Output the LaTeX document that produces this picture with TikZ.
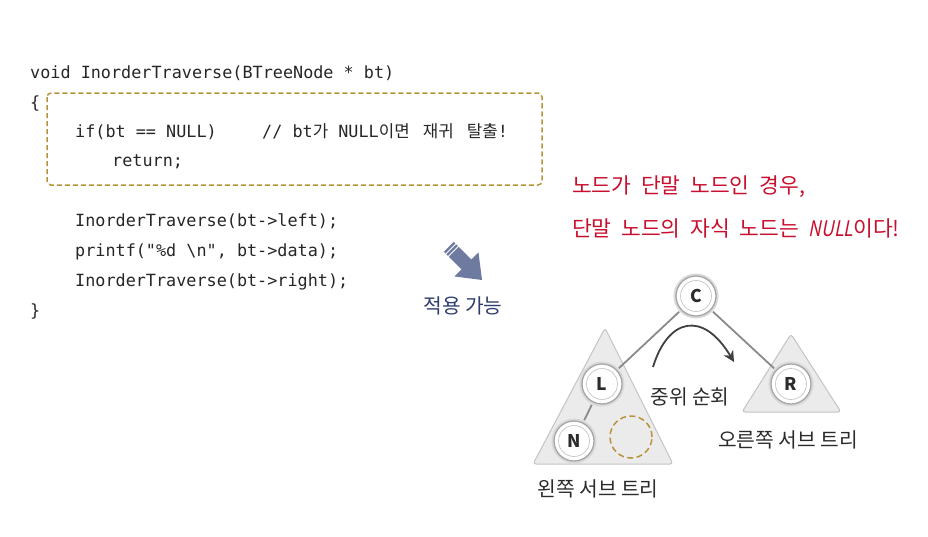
\documentclass[tikz,border=0pt]{standalone}
\usepackage{fontspec}
\setmainfont{Noto Sans CJK KR}
\setmonofont{DejaVu Sans Mono}
\newfontfamily\krfont{Noto Sans CJK KR}
\newfontfamily\krslant[FakeSlant=0.2, FakeStretch=0.82]{Noto Sans CJK KR}
\usetikzlibrary{arrows.meta}
\definecolor{codec}{HTML}{262626}
\definecolor{goldc}{HTML}{B8933A}
\definecolor{redt}{HTML}{C8102E}
\definecolor{navyc}{HTML}{2E3D6E}
\definecolor{arrowb}{HTML}{6E7AA0}
\definecolor{trifill}{HTML}{EBEBEB}
\definecolor{triline}{HTML}{C4C4C4}
\definecolor{edgec}{HTML}{8A8A8A}
\definecolor{labc}{HTML}{2B2B2B}
\newcommand\mycodefont{\fontsize{16.8}{20}\selectfont\ttfamily}
\newcommand\myredfont{\fontsize{21.5}{24}\selectfont\spaceskip=0.45em\relax}
\tikzset{
  codeline/.style={anchor=base west, inner sep=0pt, font=\mycodefont, text=codec},
  redline/.style={anchor=base west, inner sep=0pt, font=\myredfont, text=redt},
  lab/.style={inner sep=0pt, font=\fontsize{20.3}{22}\selectfont, text=labc},
  treenode/.style={circle, minimum size=40pt, inner sep=0pt, fill=white, draw=gray!70, line width=1.3pt,
     preaction={draw=gray!30, line width=5pt},
     font=\fontsize{17.5}{20}\selectfont\bfseries, text=labc},
  tri/.style={fill=trifill, draw=triline, line width=1pt, rounded corners=3pt},
  edge/.style={draw=edgec, line width=1.8pt},
  goldbox/.style={draw=goldc, line width=1.5pt, dash pattern=on 5pt off 3pt}
}
\begin{document}
\begin{tikzpicture}[x=1pt, y=-1pt]
\useasboundingbox (0,0) rectangle (928,536);
% code
\node[codeline] (l1) at (30,78) {void InorderTraverse(BTreeNode * bt)};
\node[codeline] (l2) at (30,108) {\{};
\node[codeline] (l3) at (75,137) {if(bt == NULL)};
\node[codeline] (l3c) at (262,137) {// bt{\krfont 가} NULL{\krfont 이면} \hspace{3pt}{\krfont 재귀} \hspace{3pt}{\krfont 탈출}!};
\node[codeline] (l4) at (112,166) {return;};
\node[codeline] (l5) at (75,226) {InorderTraverse(bt->left);};
\node[codeline] (l6) at (75,256) {printf("\%d \textbackslash n", bt->data);};
\node[codeline] (l7) at (75,286) {InorderTraverse(bt->right);};
\node[codeline] (l8) at (30,316) {\}};
\draw[goldbox, rounded corners=4pt] (47,93) rectangle (542,185);
% red notes
\node[redline] (r1) at (572,193) {노드가 단말 노드인 경우,};
\node[redline] (r2) at (572,236) {단말 노드의 자식 노드는 {\krslant NULL}이다!};
% fat arrow
\begin{scope}[shift={(482,280)}, rotate=-45]
  \fill[arrowb] (0,0) -- (-22,17) -- (-22,7) -- (-47,7) -- (-47,-7) -- (-22,-7) -- (-22,-17) -- cycle;
  \draw[white, line width=0.9pt] (-40.5,8) -- (-40.5,-8);
  \draw[white, line width=0.9pt] (-44,8) -- (-44,-8);
\end{scope}
\node[lab, text=navyc] (apply) at (463,306) {적용 가능};
% triangles
\draw[tri] (605,328) -- (673,464) -- (533,464) -- cycle;
\draw[tri] (791,334) -- (841,412) -- (742,412) -- cycle;
% tree nodes
\node[treenode] (C) at (696,296) {C};
\node[treenode] (L) at (602,384) {L};
\node[treenode] (N) at (574,441) {N};
\node[treenode] (R) at (791,384) {R};
\foreach \n in {C,L,N,R} \draw[gray!45, line width=0.7pt] (\n) circle (15.5pt);
\draw[edge, shorten <=2.5pt, shorten >=2.5pt] (C) -- (L);
\draw[edge, shorten <=2.5pt, shorten >=2.5pt] (L) -- (N);
\draw[edge, shorten <=2.5pt, shorten >=2.5pt] (C) -- (R);
\draw[goldbox, dash pattern=on 6pt off 3.5pt] (631,437) circle (21pt);
% traversal arrow
\coordinate (tstart) at (653,367);
\coordinate (tend) at (734,362);
\draw[draw=labc!90, line width=1.8pt, -{Stealth[length=11pt, width=11pt]}] (tstart) .. controls (668,318) and (703,310) .. (tend);
\node[lab] (inorder) at (690,397) {중위 순회};
\node[lab] (rsub) at (788,440) {오른쪽 서브 트리};
\node[lab] (lsub) at (598,489) {왼쪽 서브 트리};
\end{tikzpicture}
\end{document}
